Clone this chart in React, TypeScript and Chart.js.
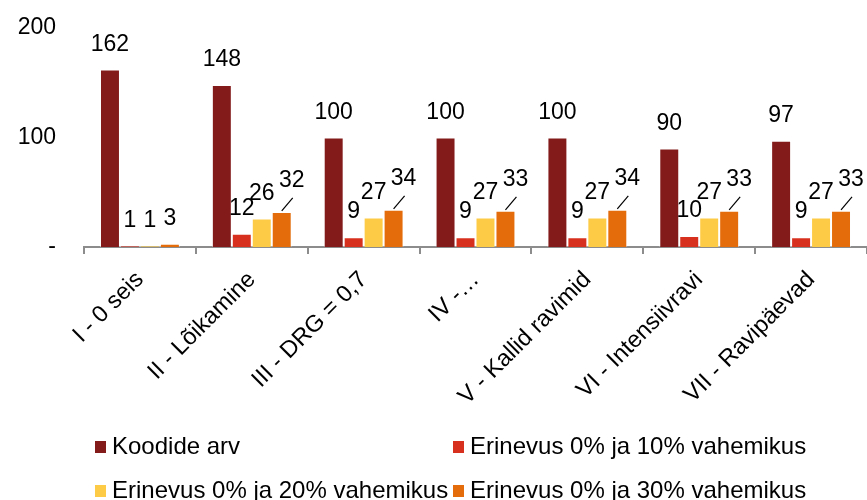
import React, { useEffect, useRef } from 'react';
import { Chart, registerables } from 'chart.js';

Chart.register(...registerables);

const categories = ['I - 0 seis', 'II - Lõikamine', 'III - DRG = 0,7', 'IV -…', 'V - Kallid ravimid', 'VI - Intensiivravi', 'VII - Ravipäevad'];
const seriesNames = ['Koodide arv', 'Erinevus 0% ja 10% vahemikus', 'Erinevus 0% ja 20% vahemikus', 'Erinevus 0% ja 30% vahemikus'];
const koodideArv = [162, 148, 100, 100, 100, 90, 97];
const erinevus10 = [1, 12, 9, 9, 9, 10, 9];
const erinevus20 = [1, 26, 27, 27, 27, 27, 27];
const erinevus30 = [3, 32, 34, 33, 34, 33, 33];
const yTickValues = [0, 100, 200];
const seriesColors = ['#841B1B', '#D7301F', '#FECB46', '#E46C0A'];

const FONT = '"Liberation Sans", Arial, sans-serif';

const valueLabels = {
  id: 'valueLabels',
  afterDatasetsDraw(chart: any) {
    const ctx = chart.ctx;
    ctx.save();
    ctx.font = `23px ${FONT}`;
    ctx.fillStyle = '#000';
    ctx.strokeStyle = '#000';
    ctx.lineWidth = 1.2;
    ctx.textAlign = 'center';
    ctx.textBaseline = 'middle';
    chart.data.datasets.forEach((ds: any, di: number) => {
      const meta = chart.getDatasetMeta(di);
      meta.data.forEach((bar: any, i: number) => {
        const txt = String(ds.data[i]);
        let x = bar.x;
        let y = bar.y - 25;
        if (di === 3) {
          const prevTxt = String(chart.data.datasets[2].data[i]);
          const w = ctx.measureText(txt).width;
          const pw = ctx.measureText(prevTxt).width;
          const gap = bar.x - chart.getDatasetMeta(2).data[i].x;
          if ((w + pw) / 2 > gap) {
            ctx.beginPath();
            ctx.moveTo(bar.x, bar.y - 1);
            ctx.lineTo(bar.x + 11, bar.y - 14);
            ctx.stroke();
            x = bar.x + 10;
            y = bar.y - 31;
          }
        }
        ctx.fillText(txt, x, y);
      });
    });
    ctx.restore();
  },
};

const gridLegend = {
  id: 'gridLegend',
  afterDraw(chart: any) {
    const ctx = chart.ctx;
    ctx.save();
    ctx.font = `24px ${FONT}`;
    ctx.textAlign = 'left';
    ctx.textBaseline = 'middle';
    const colX = [95, 453];
    const rowY = [447, 491];
    chart.data.datasets.forEach((ds: any, i: number) => {
      const cx = colX[i % 2];
      const cy = rowY[Math.floor(i / 2)];
      ctx.fillStyle = ds.backgroundColor;
      ctx.fillRect(cx, cy - 6, 11, 12);
      ctx.fillStyle = '#000';
      ctx.fillText(ds.label, cx + 17, cy);
    });
    ctx.restore();
  },
};

export default function App() {
  const ref = useRef<HTMLCanvasElement>(null);
  useEffect(() => {
    if (!ref.current) return;
    const seriesData = [koodideArv, erinevus10, erinevus20, erinevus30];
    const chart = new Chart(ref.current, {
      type: 'bar',
      data: {
        labels: categories,
        datasets: seriesNames.map((name, i) => ({
          label: name,
          data: seriesData[i],
          backgroundColor: seriesColors[i],
          borderColor: 'rgba(255,255,255,0.45)',
          borderWidth: 1,
          categoryPercentage: 0.714,
          barPercentage: 1.0,
        })),
      },
      options: {
        responsive: false,
        animation: false,
        layout: { padding: { top: 28, left: 0, right: 0, bottom: 0 } },
        plugins: {
          legend: { display: false },
          tooltip: { enabled: false },
        },
        scales: {
          x: {
            afterFit: (s: any) => { s.height = 253; },
            grid: {
              display: true,
              drawOnChartArea: false,
              drawTicks: true,
              tickLength: 7,
              offset: true,
              color: '#8c8c8c',
              lineWidth: 2,
            },
            border: { display: true, color: '#8c8c8c', width: 2 },
            ticks: {
              autoSkip: false,
              minRotation: 45,
              maxRotation: 45,
              padding: 12,
              color: '#000',
              font: { family: FONT, size: 23.5 },
            },
          },
          y: {
            min: 0,
            max: 200,
            afterFit: (s: any) => { s.width = 84; },
            afterBuildTicks: (s: any) => { s.ticks = yTickValues.map((v) => ({ value: v })); },
            grid: { display: false, drawTicks: true, tickLength: 28 },
            border: { display: false },
            ticks: {
              padding: 0,
              color: '#000',
              font: { family: FONT, size: 23 },
              callback: (v: any) => (Number(v) === 0 ? '-' : String(v)),
            },
          },
        },
      },
      plugins: [valueLabels, gridLegend],
    });
    return () => chart.destroy();
  }, []);
  return (
    <div style={{ position: 'absolute', left: 0, top: 0, width: 867, height: 500, background: '#fff' }}>
      <canvas ref={ref} width={867} height={500} />
    </div>
  );
}
